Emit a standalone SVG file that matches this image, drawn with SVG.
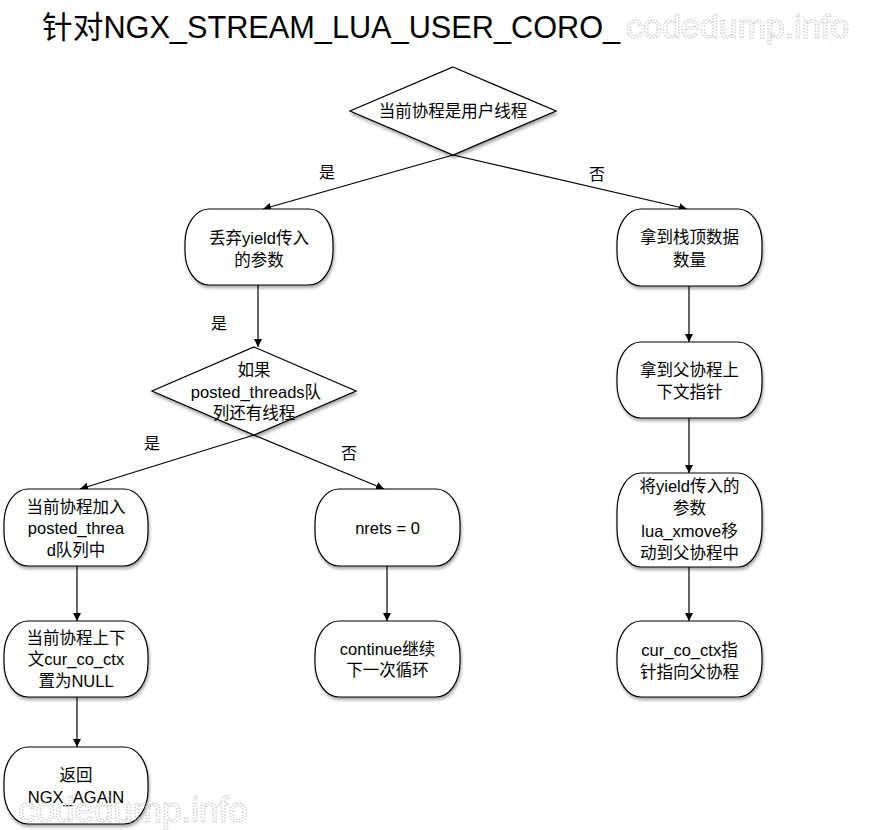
<svg xmlns="http://www.w3.org/2000/svg" width="881" height="830" viewBox="0 0 881 830">
<defs>
<style>
text{font-family:"Liberation Sans","Noto Sans CJK SC",sans-serif;fill:#000;}
.t{font-size:16.5px;text-anchor:middle;dominant-baseline:central;}
.lbl{font-size:16px;text-anchor:middle;dominant-baseline:central;}
.n{fill:#fff;stroke:#000;stroke-width:1.2;filter:url(#sh);}
.c{fill:none;stroke:#000;stroke-width:1.2;marker-end:url(#ah);}
.wm{font-size:35px;fill:none;stroke:#c8c8c8;stroke-width:1.2;stroke-dasharray:1.5 1.5;}
</style>
<filter id="sh" x="-10%" y="-10%" width="130%" height="140%">
<feDropShadow dx="1" dy="2.5" stdDeviation="1.5" flood-color="#000" flood-opacity="0.35"/>
</filter>
<marker id="ah" viewBox="0 0 10 10" refX="10" refY="5" markerWidth="8" markerHeight="8" markerUnits="userSpaceOnUse" orient="auto">
<path d="M0,0 L10,5 L0,10 z" fill="#000"/>
</marker>
</defs>
<rect width="881" height="830" fill="#fff"/>
<text id="title" x="42" y="37.5" style="font-size:30.7px">针对NGX_STREAM_LUA_USER_CORO_</text>
<text x="626" y="38" class="wm" style="font-size:34px">codedump.info</text>

<g id="connectors">
<line class="c" x1="453" y1="155" x2="263" y2="209"/>
<line class="c" x1="453" y1="155" x2="687" y2="209"/>
<line class="c" x1="258" y1="285" x2="258" y2="347"/>
<line class="c" x1="254" y1="435" x2="80" y2="489"/>
<line class="c" x1="254" y1="435" x2="384" y2="489"/>
<line class="c" x1="77" y1="566" x2="77" y2="621"/>
<line class="c" x1="387" y1="566" x2="387" y2="621"/>
<line class="c" x1="77" y1="697" x2="77" y2="747"/>
<line class="c" x1="689" y1="286" x2="689" y2="342"/>
<line class="c" x1="689" y1="418" x2="689" y2="473"/>
<line class="c" x1="689" y1="567" x2="689" y2="621"/>
<text class="lbl" x="327" y="172">是</text>
<text class="lbl" x="597" y="174">否</text>
<text class="lbl" x="219" y="323">是</text>
<text class="lbl" x="152" y="443">是</text>
<text class="lbl" x="349" y="453">否</text>
</g>

<g id="d1">
<polygon class="n" points="453,67 556,111 453,155 350,111"/>
<text class="t" x="453" y="111">当前协程是用户线程</text>
</g>
<g id="n_discard">
<rect class="n" x="185" y="209" width="148" height="76" rx="24" ry="34"/>
<text class="t" x="259" y="238">丢弃yield传入</text>
<text class="t" x="259" y="260">的参数</text>
</g>
<g id="d2">
<polygon class="n" points="254,347 356,391 254,435 152,391"/>
<text class="t" x="254" y="370">如果</text>
<text class="t" x="256" y="392">posted_threads队</text>
<text class="t" x="254" y="413">列还有线程</text>
</g>
<g id="n_add">
<rect class="n" x="4" y="489" width="144" height="77" rx="24" ry="34"/>
<text class="t" x="76" y="507">当前协程加入</text>
<text class="t" x="76" y="528">posted_threa</text>
<text class="t" x="76" y="550">d队列中</text>
</g>
<g id="n_nrets">
<rect class="n" x="315" y="489" width="145" height="77" rx="24" ry="34"/>
<text class="t" x="387.5" y="528">nrets = 0</text>
</g>
<g id="n_ctx_null">
<rect class="n" x="4" y="621" width="144" height="76" rx="24" ry="34"/>
<text class="t" x="76" y="638">当前协程上下</text>
<text class="t" x="76" y="659">文cur_co_ctx</text>
<text class="t" x="76" y="681">置为NULL</text>
</g>
<g id="n_continue">
<rect class="n" x="315" y="621" width="145" height="76" rx="24" ry="34"/>
<text class="t" x="387.5" y="649">continue继续</text>
<text class="t" x="387.5" y="670">下一次循环</text>
</g>
<g id="n_return">
<rect class="n" x="4" y="747" width="144" height="77" rx="24" ry="34"/>
<text class="t" x="76" y="775">返回</text>
<text class="t" x="76" y="797">NGX_AGAIN</text>
</g>
<g id="n_top">
<rect class="n" x="617" y="209" width="145" height="77" rx="24" ry="34"/>
<text class="t" x="689.5" y="237">拿到栈顶数据</text>
<text class="t" x="689.5" y="260">数量</text>
</g>
<g id="n_parent">
<rect class="n" x="617" y="342" width="145" height="76" rx="24" ry="34"/>
<text class="t" x="689.5" y="370">拿到父协程上</text>
<text class="t" x="689.5" y="392">下文指针</text>
</g>
<g id="n_xmove">
<rect class="n" x="617" y="473" width="145" height="94" rx="24" ry="38"/>
<text class="t" x="689.5" y="486">将yield传入的</text>
<text class="t" x="689.5" y="508">参数</text>
<text class="t" x="689.5" y="531">lua_xmove移</text>
<text class="t" x="689.5" y="553">动到父协程中</text>
</g>
<g id="n_cur">
<rect class="n" x="617" y="621" width="145" height="76" rx="24" ry="34"/>
<text class="t" x="689.5" y="650">cur_co_ctx指</text>
<text class="t" x="689.5" y="672">针指向父协程</text>
</g>
<text x="18" y="822" class="wm">codedump.info</text>
</svg>
